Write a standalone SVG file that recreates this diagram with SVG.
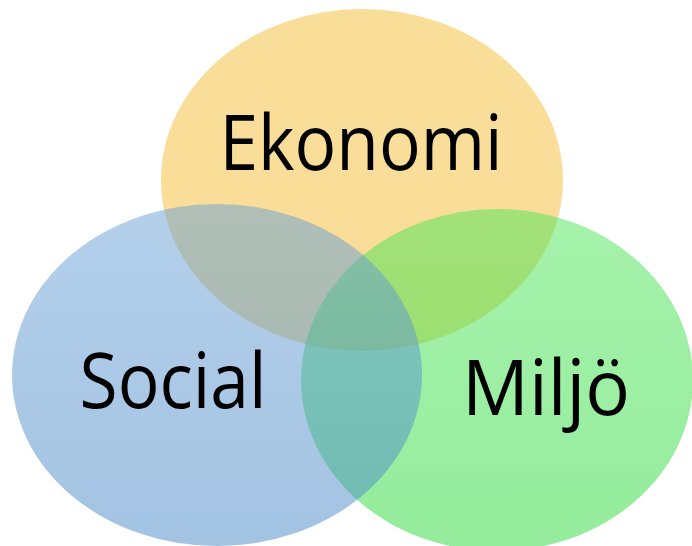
<svg xmlns="http://www.w3.org/2000/svg" width="692" height="546" viewBox="0 0 692 546">
  <style>
    .lbl { font-family: "Open Sans", "Noto Sans", "Liberation Sans", sans-serif; font-size: 76px; fill: #000; text-anchor: middle; }
    .set { fill-opacity: 0.5; }
  </style>
  <defs>
    <linearGradient id="gO" x1="0" y1="0" x2="0" y2="1">
      <stop offset="0" stop-color="#F3BD35"/>
      <stop offset="1" stop-color="#F3BB30"/>
    </linearGradient>
    <linearGradient id="gB" x1="0" y1="0" x2="0" y2="1">
      <stop offset="0" stop-color="#69A1D7"/>
      <stop offset="1" stop-color="#4787C5"/>
    </linearGradient>
    <linearGradient id="gG" x1="0" y1="0" x2="0" y2="1">
      <stop offset="0" stop-color="#4DE559"/>
      <stop offset="1" stop-color="#29D939"/>
    </linearGradient>
  </defs>
  <rect width="692" height="546" fill="#fff"/>
  <g id="ekonomi">
    <ellipse class="set" cx="362" cy="180" rx="201" ry="171" fill="url(#gO)"/>
    <text class="lbl" x="361" y="170" textLength="283" lengthAdjust="spacingAndGlyphs">Ekonomi</text>
  </g>
  <g id="miljo">
    <ellipse class="set" cx="497" cy="380" rx="196" ry="171" fill="url(#gG)"/>
    <text class="lbl" x="546" y="415" textLength="168" lengthAdjust="spacingAndGlyphs">Miljö</text>
  </g>
  <g id="social">
    <ellipse class="set" cx="217" cy="375" rx="205" ry="171" fill="url(#gB)"/>
    <text class="lbl" x="173" y="408" textLength="187" lengthAdjust="spacingAndGlyphs">Social</text>
  </g>
  <g id="connectors"/>
</svg>
